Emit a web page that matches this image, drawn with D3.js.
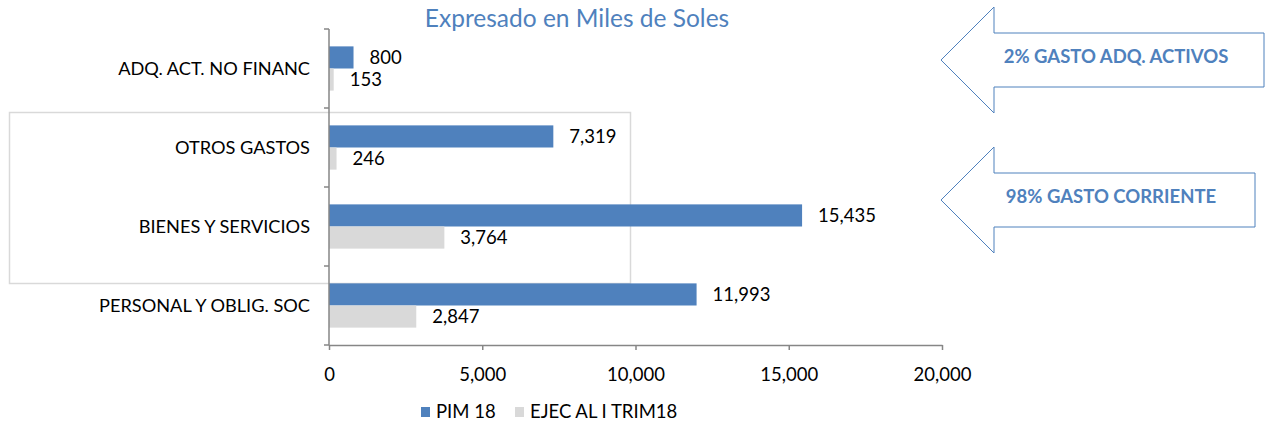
<!DOCTYPE html>
<html>
<head>
<meta charset="utf-8">
<script src="https://cdn.jsdelivr.net/npm/d3@7"></script>
<style>
  body { margin: 0; background: #fff; }
  svg { display: block; font-family: Lato, 'Open Sans', sans-serif; }
</style>
</head>
<body>
<div id="chart"></div>
<script>
const categories = ['ADQ. ACT. NO FINANC', 'OTROS GASTOS', 'BIENES Y SERVICIOS', 'PERSONAL Y OBLIG. SOC']
const pim18 = [800, 7319, 15435, 11993]
const ejec18 = [153, 246, 3764, 2847]
const seriesNames = ['PIM 18', 'EJEC AL I TRIM18']
const xTicks = [0, 5000, 10000, 15000, 20000]
const arrowNotes = ['2% GASTO ADQ. ACTIVOS', '98% GASTO CORRIENTE']

const W = 1269
const H = 423
const BLUE = '#4f81bd'
const GRAY = '#d9d9d9'
const AXIS = '#868686'
const fmt = d3.format(',')

const svg = d3.select('#chart').append('svg')
  .attr('width', W)
  .attr('height', H)

const x = d3.scaleLinear().domain([0, 20000]).range([329, 942])
const y = d3.scaleBand().domain(categories).range([29, 345]).paddingInner(0.44).paddingOuter(0.22)
const sub = d3.scaleBand().domain(seriesNames).range([0, y.bandwidth()])

// box around gasto corriente categories
svg.append('rect')
  .attr('x', 9.5).attr('y', 112.5)
  .attr('width', 621).attr('height', 171)
  .attr('fill', 'none')
  .attr('stroke', GRAY)
  .attr('stroke-width', 1.5)

// title
svg.append('text')
  .attr('x', 577).attr('y', 27)
  .attr('text-anchor', 'middle')
  .attr('fill', BLUE)
  .style('font-size', '24.5px')
  .text('Expresado en Miles de Soles')

const rows = categories.map((c, i) => ({ cat: c, vals: [pim18[i], ejec18[i]] }))

const group = svg.append('g').selectAll('g')
  .data(rows)
  .join('g')
  .attr('transform', (d) => `translate(0,${y(d.cat)})`)

group.selectAll('rect')
  .data((d) => d.vals.map((v, j) => ({ v, s: seriesNames[j] })))
  .join('rect')
  .attr('x', x(0))
  .attr('y', (d) => sub(d.s))
  .attr('width', (d) => x(d.v) - x(0))
  .attr('height', sub.bandwidth())
  .attr('fill', (d, j) => j === 0 ? BLUE : GRAY)

group.selectAll('text')
  .data((d) => d.vals.map((v, j) => ({ v, s: seriesNames[j] })))
  .join('text')
  .attr('x', (d) => x(d.v) + 16)
  .attr('y', (d) => sub(d.s) + sub.bandwidth() / 2)
  .attr('dy', '0.35em')
  .attr('fill', '#000')
  .style('font-size', '18.5px')
  .text((d) => fmt(d.v))

// y axis
const yAxis = svg.append('g')
  .attr('transform', `translate(${x(0)},0)`)
yAxis.append('line')
  .attr('x1', 0).attr('x2', 0)
  .attr('y1', 29).attr('y2', 345)
  .attr('stroke', AXIS)
  .attr('stroke-width', 1.5)
yAxis.selectAll('.ytick')
  .data(d3.range(categories.length + 1).map((i) => 29 + i * (316 / categories.length)))
  .join('line')
  .attr('class', 'ytick')
  .attr('x1', -5).attr('x2', 0)
  .attr('y1', (d) => d).attr('y2', (d) => d)
  .attr('stroke', AXIS)
  .attr('stroke-width', 1.5)
yAxis.selectAll('.ylab')
  .data(categories)
  .join('text')
  .attr('class', 'ylab')
  .attr('x', -19)
  .attr('y', (d) => y(d) + y.bandwidth() / 2)
  .attr('dy', '0.35em')
  .attr('text-anchor', 'end')
  .attr('fill', '#000')
  .style('font-size', '18.2px')
  .text((d) => d)

// x axis
const xAxis = svg.append('g')
  .attr('transform', 'translate(0,345)')
  .call(d3.axisBottom(x).tickValues(xTicks).tickFormat(fmt).tickSize(5).tickSizeOuter(0))
xAxis.select('.domain').attr('stroke', AXIS).attr('stroke-width', 1.5)
xAxis.selectAll('.tick line').attr('stroke', AXIS).attr('stroke-width', 1.5)
xAxis.selectAll('.tick text')
  .attr('y', 23)
  .attr('fill', '#000')
  .style('font-size', '18.5px')
  .style('font-family', 'Lato, sans-serif')

// legend
const legend = svg.append('g')
const legendX = [421, 515]
seriesNames.forEach((s, i) => {
  legend.append('rect')
    .attr('x', legendX[i]).attr('y', 407)
    .attr('width', 9).attr('height', 10)
    .attr('fill', i === 0 ? BLUE : GRAY)
  legend.append('text')
    .attr('x', legendX[i] + 15).attr('y', 412)
    .attr('dy', '0.35em')
    .attr('fill', '#000')
    .style('font-size', '18.5px')
    .text(s)
})

// arrows pointing to chart
const arrows = [
  { tipY: 60, half: 53, shaft: 27, right: 1264, textX: 1116 },
  { tipY: 200, half: 53, shaft: 27, right: 1255, textX: 1111 }
]
arrows.forEach((a, i) => {
  const tipX = 941
  const backX = 994
  const pts = [
    [tipX, a.tipY],
    [backX, a.tipY - a.half],
    [backX, a.tipY - a.shaft],
    [a.right, a.tipY - a.shaft],
    [a.right, a.tipY + a.shaft],
    [backX, a.tipY + a.shaft],
    [backX, a.tipY + a.half]
  ]
  svg.append('path')
    .attr('d', d3.line()(pts) + 'Z')
    .attr('fill', '#fff')
    .attr('stroke', BLUE)
    .attr('stroke-width', 1)
  svg.append('text')
    .attr('x', a.textX)
    .attr('y', a.tipY - 3)
    .attr('dy', '0.35em')
    .attr('text-anchor', 'middle')
    .attr('fill', BLUE)
    .style('font-size', '18.5px')
    .style('font-weight', 'bold')
    .text(arrowNotes[i])
})
</script>
</body>
</html>
